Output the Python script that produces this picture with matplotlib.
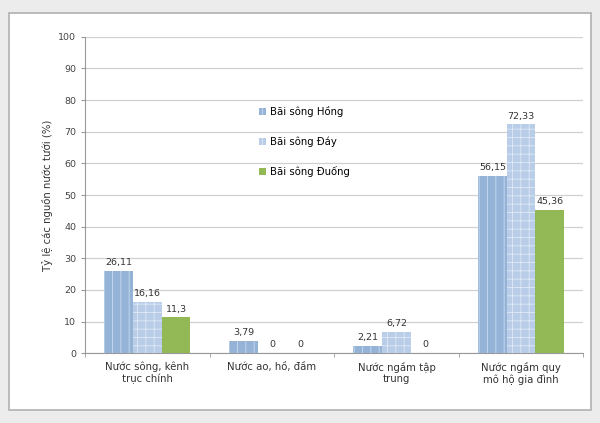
import numpy as np
import matplotlib.pyplot as plt
from matplotlib.patches import Rectangle

# --- DATA ---
categories = ["Nước sông, kênh\ntrục chính", "Nước ao, hồ, đầm",
              "Nước ngầm tập\ntrung", "Nước ngầm quy\nmô hộ gia đình"]
series_names = ["Bãi sông Hồng", "Bãi sông Đáy", "Bãi sông Đuống"]
song_hong = [26.11, 3.79, 2.21, 56.15]
song_day = [16.16, 0, 6.72, 72.33]
song_duong = [11.3, 0, 0, 45.36]
labels_hong = ["26,11", "3,79", "2,21", "56,15"]
labels_day = ["16,16", "0", "6,72", "72,33"]
labels_duong = ["11,3", "0", "0", "45,36"]
y_ticks = list(range(0, 101, 10))

plt.rcParams['font.family'] = ['DejaVu Sans']
plt.rcParams['hatch.linewidth'] = 0.6

fig = plt.figure(figsize=(6, 4.23), dpi=100)
fig.patch.set_facecolor('#ececec')
# outer chart frame, drawn behind the axes
frame = Rectangle((0.015, 0.03), 0.97, 0.94, transform=fig.transFigure,
                  facecolor='white', edgecolor='#b0b0b0', lw=1.2, zorder=-10)
fig.add_artist(frame)

ax = fig.add_axes([0.142, 0.165, 0.83, 0.748])
ax.patch.set_alpha(0)
x = np.arange(len(categories))
w = 0.23
styles = [
    (song_hong, labels_hong, '#95b3d7', '#c9dbef', '||'),
    (song_day, labels_day, '#b9cde8', '#e0eaf6', '++'),
    (song_duong, labels_duong, '#92b956', None, None),
]
for i, (vals, labs, col, hcol, hatch) in enumerate(styles):
    pos = x + (i - 1) * w
    ax.bar(pos, vals, w, color=col, label=series_names[i], zorder=3,
           edgecolor=hcol if hcol else col, hatch=hatch, linewidth=0)
    for xp, v, t in zip(pos, vals, labs):
        ax.text(xp, v + 1.2, t, ha='center', va='bottom', fontsize=6.8,
                color='#333333', zorder=4)

ax.set_xlim(-0.5, len(categories) - 0.5)
ax.set_ylim(0, 100)
ax.set_yticks(y_ticks)
ax.tick_params(axis='y', labelsize=6.8, colors='#444444', length=3, color='#999999')
ax.set_xticks(x)
ax.set_xticklabels(categories, fontsize=7.3, color='#333333')
ax.tick_params(axis='x', length=0, pad=6)
ax.set_xticks(np.arange(len(categories) + 1) - 0.5, minor=True)
ax.tick_params(axis='x', which='minor', length=3, color='#999999')
ax.grid(axis='y', color='#d0d0d0', lw=0.9, zorder=0)
for s in ['top', 'right']:
    ax.spines[s].set_visible(False)
ax.spines['left'].set_color('#999999')
ax.spines['bottom'].set_color('#999999')
ax.set_ylabel('Tỷ lệ các nguồn nước tưới (%)', fontsize=7.3, color='#333333')

ax.legend(loc='upper left', bbox_to_anchor=(0.33, 0.81), frameon=False,
          fontsize=7.3, handlelength=0.7, handleheight=0.7, labelspacing=1.9,
          handletextpad=0.4)

fig.savefig('out.png', dpi=100, facecolor=fig.get_facecolor())
